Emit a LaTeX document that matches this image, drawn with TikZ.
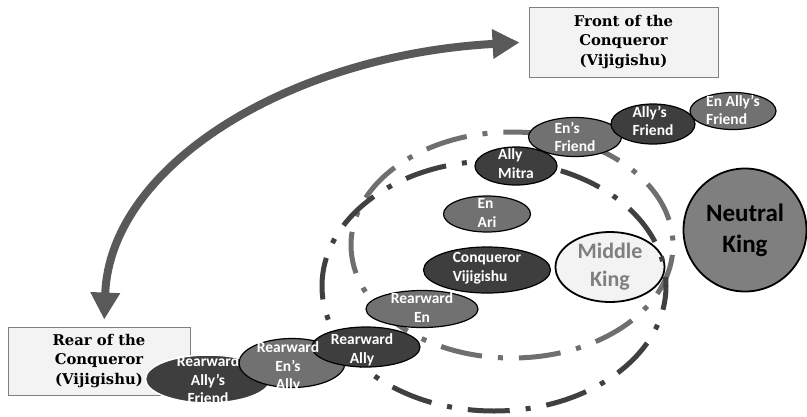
\documentclass[tikz,border=0pt]{standalone}
\usepackage{fontspec}
\newfontfamily\calib{Carlito}
\newfontfamily\slabserif{DejaVu Serif}
\usetikzlibrary{shapes.geometric,arrows.meta}

\definecolor{darkfill}{HTML}{3E3E3E}
\definecolor{midfill}{HTML}{717171}
\definecolor{ringdark}{HTML}{404040}
\definecolor{ringlight}{HTML}{6F6F6F}
\definecolor{arrowgray}{HTML}{595959}
\definecolor{boxfill}{HTML}{F3F3F3}
\definecolor{boxline}{HTML}{7F7F7F}
\definecolor{neutralfill}{HTML}{7F7F7F}
\definecolor{middletext}{HTML}{7F7F7F}

\tikzset{
  realm/.style={ellipse, draw=black, line width=1.2pt, inner sep=0pt},
  darkrealm/.style={realm, fill=darkfill},
  midrealm/.style={realm, fill=midfill},
  realmtext/.style={text=white, inner sep=0pt,
    font=\calib\bfseries\fontsize{15.5}{18.5}\selectfont},
  lefttext/.style={realmtext, align=left},
  centertext/.style={realmtext, align=center},
  ring/.style={line width=5pt, dash pattern=on 42pt off 16pt on 5pt off 16pt},
  sidebox/.style={rectangle, draw=boxline, line width=0.9pt, fill=boxfill,
    inner sep=0pt, align=center,
    font=\slabserif\bfseries\fontsize{14.8}{19.5}\selectfont},
  bigarrow/.style={color=arrowgray, line width=8pt,
    arrows={Triangle[length=27pt,width=28pt]-Triangle[length=27pt,width=28pt]}}
}

\begin{document}
\begin{tikzpicture}[x=1pt,y=-1pt]
\useasboundingbox (0,0) rectangle (807,416);

% front and rear of the conqueror
\node[sidebox, minimum width=189pt, minimum height=70pt] (front) at (623.5,42)
  {Front of the\\Conqueror\\(Vijigishu)};
\node[sidebox, minimum width=182pt, minimum height=68pt] (rear) at (99,361)
  {Rear of the\\Conqueror\\(Vijigishu)};

% double-headed arc between rear and front
\draw[bigarrow, shorten <=7pt, shorten >=9pt]
  ([xshift=5pt]rear.north) .. controls (110,165) and (290,55) .. (front.west);

% middle king lies beneath the circles of states
\node[ellipse, draw=black, line width=1.8pt, fill=boxfill, inner sep=0pt,
  minimum width=109pt, minimum height=70pt] (middle) at (610,267) {};

% two dash-dot circles of states
\draw[ring, draw=ringlight, dash phase=53.5pt]
  (512,245) ellipse [x radius=161pt, y radius=113pt];
\draw[ring, draw=ringdark, dash phase=33pt]
  (494,286) ellipse [x radius=172pt, y radius=125pt];

% rearward states
\node[darkrealm, draw=white, line width=1.5pt, minimum width=125pt, minimum height=48pt]
  (raf) at (208,379) {};
\node[midrealm, minimum width=106pt, minimum height=49pt] (rea) at (292,363) {};
\node[midrealm, minimum width=112pt, minimum height=37pt] (ren) at (422,309) {};
\node[darkrealm, minimum width=108pt, minimum height=40pt] (ral) at (366,347) {};

% conqueror and the states in front
\node[darkrealm, minimum width=127pt, minimum height=46pt] (conq) at (487,270) {};
\node[midrealm, minimum width=87pt, minimum height=36pt] (ari) at (487,214) {};
\node[darkrealm, minimum width=82pt, minimum height=38pt] (mitra) at (516,166) {};
\node[midrealm, minimum width=93pt, minimum height=39pt] (enf) at (575,137) {};
\node[darkrealm, minimum width=84pt, minimum height=40pt] (allyf) at (653,124) {};
\node[midrealm, minimum width=86pt, minimum height=37pt] (enallyf) at (733,111) {};

% neutral king
\node[circle, draw=black, line width=1.8pt, fill=neutralfill, inner sep=0pt,
  minimum size=123pt, align=center,
  font=\calib\bfseries\fontsize{25}{31}\selectfont]
  (neutral) at (745,230) {Neutral\\King};

% names of the states, set above all the shapes
\node[inner sep=0pt, align=center, text=middletext,
  font=\calib\bfseries\fontsize{22}{28}\selectfont] (middle-t) at (middle) {Middle\\King};
\node[centertext, yshift=-1pt] (raf-t) at (raf) {Rearward\\Ally’s\\Friend};
\node[centertext, yshift=-4pt, xshift=-4pt] (rea-t) at (rea) {Rearward\\En’s\\Ally};
\node[centertext, yshift=1.5pt] (ren-t) at (ren) {Rearward\\En};
\node[centertext, yshift=-3pt, xshift=-4pt] (ral-t) at (ral) {Rearward\\Ally};
\node[lefttext, yshift=2pt] (conq-t) at (conq) {Conqueror\\Vijigishu};
\node[lefttext, yshift=1pt] (ari-t) at (ari) {En\\Ari};
\node[lefttext, yshift=2.5pt] (mitra-t) at (mitra) {Ally\\Mitra};
\node[lefttext] (enf-t) at (enf) {En’s\\Friend};
\node[lefttext, yshift=3pt] (allyf-t) at (allyf) {Ally’s\\Friend};
\node[lefttext, yshift=1pt] (enallyf-t) at (enallyf) {En Ally’s\\Friend};
\end{tikzpicture}
\end{document}
